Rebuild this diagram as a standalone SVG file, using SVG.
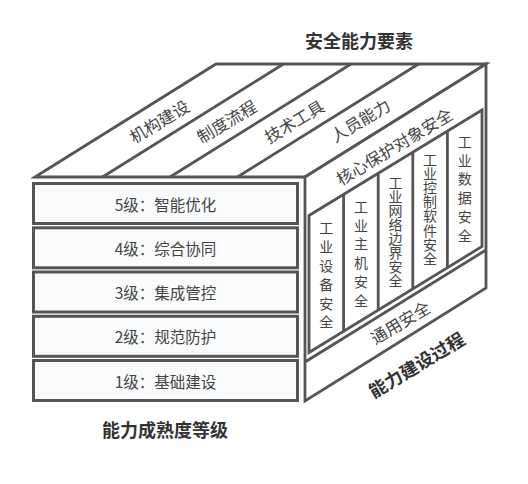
<svg xmlns="http://www.w3.org/2000/svg" width="528" height="484" viewBox="0 0 528 484">
<style>
.ln{fill:none;stroke:#555;stroke-width:2.8;stroke-linejoin:miter}
.face{fill:#fff;stroke:#555;stroke-width:2.8;stroke-linejoin:miter}
.box{fill:#fafbfd;stroke:#555;stroke-width:3}
.t{font-family:"Noto Sans CJK SC","Noto Sans",sans-serif;fill:#444}
.lvl{font-size:15.5px;text-anchor:middle;dominant-baseline:central}
.diag{font-size:16.5px;text-anchor:middle;dominant-baseline:central}
.col{font-size:14px;text-anchor:middle;writing-mode:vertical-rl}
.wide{letter-spacing:4.8px}
.tight{letter-spacing:0.1px}
.title{font-family:"Noto Sans CJK SC","Noto Sans",sans-serif;font-weight:bold;font-size:18px;fill:#333;text-anchor:middle;dominant-baseline:central}
</style>
<rect width="528" height="484" fill="#fff"/>
<g id="top-face">
<polygon class="face" points="35,177 216,64 486,64 305,177"/>
<text class="t diag" transform="translate(159,121) rotate(-31)">机构建设</text>
<text class="t diag" transform="translate(226.5,121) rotate(-31)">制度流程</text>
<text class="t diag" transform="translate(294,121) rotate(-31)">技术工具</text>
<text class="t diag" transform="translate(360,120) rotate(-31)">人员能力</text>
</g>
<g id="right-face">
<polygon class="face" points="305,177 486,64 486,288 305,401"/>
<text class="t diag" transform="translate(394,146) rotate(-31)">核心保护对象安全</text>
<text class="t diag" transform="translate(400,322) rotate(-31)">通用安全</text>
</g>
<g id="core-panel">
<polygon class="face" points="309,215.5 482,110 482,246.5 309,352.5"/>
<text class="t col wide" x="326.3" y="277.4">工业设备安全</text>
<text class="t col wide" x="360.9" y="255.9">工业主机安全</text>
<text class="t col tight" x="395.5" y="231.6">工业网络边界安全</text>
<text class="t col tight" x="430.1" y="209.1">工业控制软件安全</text>
<text class="t col wide" x="464.7" y="190.9">工业数据安全</text>
</g>
<g id="level-5"><rect class="box" x="33.5" y="183.5" width="264" height="40"/><text class="t lvl" x="165.5" y="203.5">5级：智能优化</text></g>
<g id="level-4"><rect class="box" x="33.5" y="227.8" width="264" height="40"/><text class="t lvl" x="165.5" y="247.8">4级：综合协同</text></g>
<g id="level-3"><rect class="box" x="33.5" y="272" width="264" height="40"/><text class="t lvl" x="165.5" y="292">3级：集成管控</text></g>
<g id="level-2"><rect class="box" x="33.5" y="316.3" width="264" height="40"/><text class="t lvl" x="165.5" y="336.3">2级：规范防护</text></g>
<g id="level-1"><rect class="box" x="33.5" y="360.5" width="264" height="40"/><text class="t lvl" x="165.5" y="380.5">1级：基础建设</text></g>
<g id="connectors">
<line class="ln" x1="102.5" y1="177" x2="283.5" y2="64"/>
<line class="ln" x1="170" y1="177" x2="351" y2="64"/>
<line class="ln" x1="237.5" y1="177" x2="418.5" y2="64"/>
<line class="ln" x1="343.6" y1="194.4" x2="343.6" y2="331.4"/>
<line class="ln" x1="378.2" y1="173.3" x2="378.2" y2="310.3"/>
<line class="ln" x1="412.8" y1="152.2" x2="412.8" y2="289.2"/>
<line class="ln" x1="447.4" y1="131.1" x2="447.4" y2="268.1"/>
<line class="ln" x1="305" y1="362" x2="486" y2="250"/>
</g>
<g id="labels">
<text class="title" x="359" y="40">安全能力要素</text>
<text class="title" x="165" y="429">能力成熟度等级</text>
<text class="title" transform="translate(416,364) rotate(-31)">能力建设过程</text>
</g>
</svg>
